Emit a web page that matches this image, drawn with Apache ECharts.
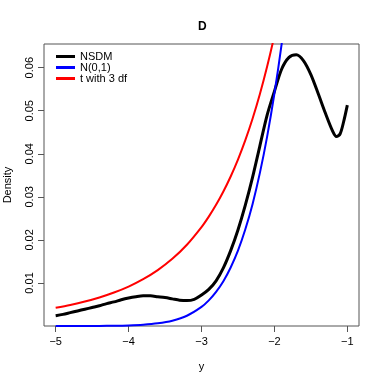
<!DOCTYPE html>
<html>
<head>
<meta charset="utf-8">
<script src="https://cdn.jsdelivr.net/npm/echarts@6/dist/echarts.min.js"></script>
<style>
    html, body { margin: 0; padding: 0; background: #fff; }
    #main { width: 382px; height: 382px; }
</style>
</head>
<body>
<div id="main"></div>
<script>
// 刻度
var xTicks = [-5, -4, -3, -2, -1];
var yTicks = [0.01, 0.02, 0.03, 0.04, 0.05, 0.06];

// NSDM 曲线 (从图上读的)
var nsdmX = [-5, -4.9, -4.8, -4.7, -4.6, -4.5, -4.4, -4.3, -4.2, -4.1, -4.0, -3.9, -3.8, -3.7, -3.6, -3.5,
    -3.4, -3.3, -3.2, -3.1, -3.0, -2.9, -2.8, -2.7, -2.6, -2.5, -2.4, -2.3, -2.2, -2.1, -2.0, -1.9,
    -1.8, -1.7, -1.6, -1.5, -1.4, -1.3, -1.2, -1.15, -1.1, -1.05, -1.0];
var nsdmY = [0.0024, 0.0027, 0.0031, 0.0035, 0.0039, 0.0043, 0.0047, 0.0052, 0.0056, 0.0061, 0.0065, 0.0068, 0.0070, 0.0070, 0.0068, 0.0066,
    0.0063, 0.0060, 0.0059, 0.0062, 0.0072, 0.0085, 0.0105, 0.0135, 0.0175, 0.0223, 0.0280, 0.0345, 0.0418, 0.0490, 0.0545, 0.0597,
    0.0624, 0.0630, 0.0616, 0.0584, 0.0540, 0.0494, 0.0452, 0.0440, 0.0446, 0.0475, 0.0513];

// N(0,1) 和 t(3) 共用的 x
var refX = [-5, -4.8, -4.6, -4.4, -4.2, -4.0, -3.8, -3.6, -3.4, -3.2, -3.0, -2.9, -2.8, -2.7, -2.6, -2.5,
    -2.4, -2.3, -2.2, -2.1, -2.0, -1.9, -1.8];
var normY = [0.0000015, 0.000004, 0.0000101, 0.0000254, 0.0000589, 0.000134, 0.000292, 0.000612, 0.00123, 0.00238, 0.00443, 0.00595, 0.00792, 0.0104, 0.0136, 0.0175,
    0.0224, 0.0283, 0.0355, 0.0440, 0.0540, 0.0656, 0.0790];
var tY = [0.00422, 0.00488, 0.00567, 0.00662, 0.00777, 0.00916, 0.01088, 0.01299, 0.01560, 0.01887, 0.02297, 0.02541, 0.02815, 0.03124, 0.03473, 0.03866,
    0.04311, 0.04813, 0.05382, 0.06025, 0.06751, 0.07571, 0.08496];

var legendNames = ['NSDM', 'N(0,1)', 't with 3 df'];

function pairs(xs, ys) {
    var out = [];
    for (var i = 0; i < xs.length; i++) {
        out.push([xs[i], ys[i]]);
    }
    return out;
}

var font = 'Liberation Sans, Arial, sans-serif';
var myChart = echarts.init(document.getElementById('main'));

var option = {
    animation: false,
    title: {
        text: 'D',
        left: 193,
        top: 16,
        textStyle: { fontFamily: font, fontSize: 12, fontWeight: 'bold', color: '#000' }
    },
    legend: {
        orient: 'vertical',
        left: 51,
        top: 46,
        itemWidth: 19,
        itemHeight: 3,
        itemGap: 0,
        icon: 'rect',
        textStyle: { fontFamily: font, fontSize: 11, color: '#000', lineHeight: 11 },
        data: legendNames
    },
    grid: {
        left: 44,
        right: 23,
        top: 44,
        bottom: 56,
        outerBoundsMode: 'none',
        show: true,
        borderColor: '#555',
        borderWidth: 1
    },
    xAxis: {
        type: 'value',
        min: -5.16,
        max: -0.84,
        name: 'y',
        nameLocation: 'middle',
        nameGap: 35,
        nameTextStyle: { fontFamily: font, fontSize: 11, color: '#000' },
        axisLine: { show: false },
        splitLine: { show: false },
        axisTick: { show: true, length: 6, customValues: xTicks, lineStyle: { color: '#555' } },
        axisLabel: {
            customValues: xTicks,
            margin: 10,
            fontFamily: font,
            fontSize: 11,
            color: '#000',
            formatter: function (v) { return String(v).replace('-', '\u2212'); }
        }
    },
    yAxis: {
        type: 'value',
        min: 0,
        max: 0.0655,
        name: 'Density',
        nameLocation: 'middle',
        nameGap: 31,
        nameRotate: 90,
        nameTextStyle: { fontFamily: font, fontSize: 11, color: '#000' },
        axisLine: { show: false },
        splitLine: { show: false },
        axisTick: { show: true, length: 6, customValues: yTicks, lineStyle: { color: '#555' } },
        axisLabel: {
            customValues: yTicks,
            rotate: 90,
            margin: 9,
            fontFamily: font,
            fontSize: 11,
            color: '#000',
            formatter: function (v) { return v.toFixed(2); }
        }
    },
    series: [
        {
            name: 'NSDM',
            type: 'line',
            data: pairs(nsdmX, nsdmY),
            smooth: 0.3,
            showSymbol: false,
            color: '#000',
            lineStyle: { color: '#000', width: 3 }
        },
        {
            name: 'N(0,1)',
            type: 'line',
            data: pairs(refX, normY),
            smooth: 0.3,
            showSymbol: false,
            color: '#0000ff',
            lineStyle: { color: '#0000ff', width: 2 }
        },
        {
            name: 't with 3 df',
            type: 'line',
            data: pairs(refX, tY),
            smooth: 0.3,
            showSymbol: false,
            color: '#ff0000',
            lineStyle: { color: '#ff0000', width: 2 }
        }
    ]
};

myChart.setOption(option);
</script>
</body>
</html>
